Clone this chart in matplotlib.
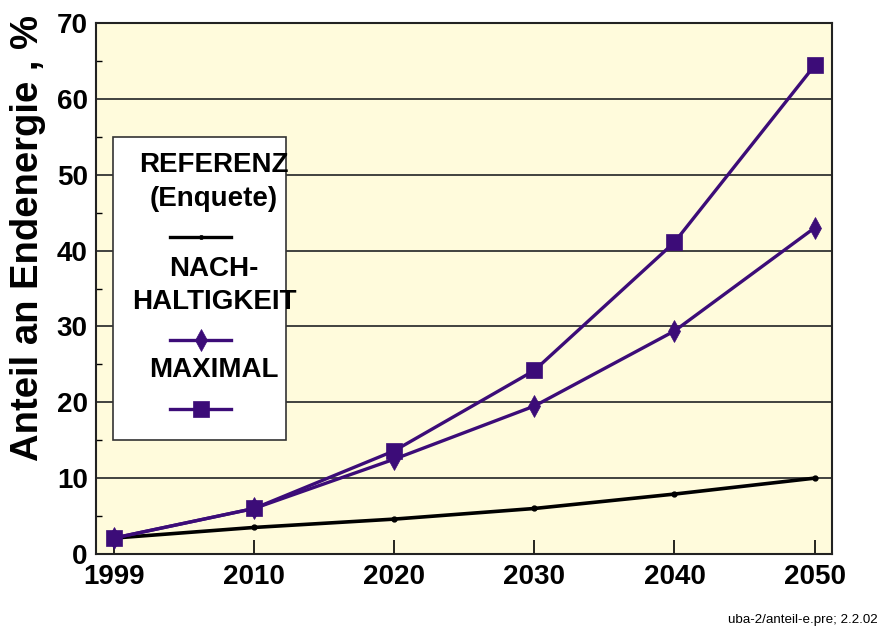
import matplotlib
matplotlib.use("Agg")
import matplotlib.pyplot as plt
from matplotlib.patches import Rectangle
from matplotlib.lines import Line2D
from matplotlib.ticker import MultipleLocator

years = ["1999", "2010", "2020", "2030", "2040", "2050"]
referenz = [2.1, 3.5, 4.6, 6.0, 7.9, 10.0]
nachhaltigkeit = [2.1, 6.0, 12.5, 19.5, 29.4, 43.0]
maximal = [2.1, 6.0, 13.6, 24.2, 41.1, 64.4]
y_ticks = [0, 10, 20, 30, 40, 50, 60, 70]

PURPLE = "#3C0C78"
BG = "#FFFBDC"

plt.rcParams['font.family'] = ['Liberation Sans', 'DejaVu Sans']
plt.rcParams['font.weight'] = 'bold'

fig = plt.figure(figsize=(8.8, 6.31), dpi=100)
ax = fig.add_axes([96/880, 1-554/631, (832-96)/880, (554-23)/631])
ax.set_facecolor(BG)

x = list(range(len(years)))
ax.plot(x, referenz, color="black", lw=2.6, marker="o", ms=3.5, zorder=3)
ax.plot(x, nachhaltigkeit, color=PURPLE, lw=2.4, marker="d", ms=11, mew=0.5, zorder=3)
ax.plot(x, maximal, color=PURPLE, lw=2.4, marker="s", ms=11, mew=0.5, zorder=4)

ax.set_xlim(-0.128, 5.124)
ax.set_ylim(0, 70)
ax.set_xticks(x)
ax.set_xticklabels(years)
ax.set_yticks(y_ticks)
ax.yaxis.set_minor_locator(MultipleLocator(5))
ax.grid(axis='y', which='major', color='#333333', lw=1.3, zorder=1)
ax.set_axisbelow(True)
ax.tick_params(axis='x', direction='in', length=10, width=1.2, pad=7, labelsize=20)
ax.tick_params(axis='y', which='major', direction='in', length=0, pad=6, labelsize=20)
ax.tick_params(axis='y', which='minor', direction='in', length=4, width=1)
for lab in ax.get_xticklabels() + ax.get_yticklabels():
    lab.set_fontweight('bold')
for s in ax.spines.values():
    s.set_linewidth(1.5)
    s.set_color('#222222')

fig.text(28/880, 1-238/631, "Anteil an Endenergie , %", rotation=90,
         ha='center', va='center', fontsize=27.5, fontweight='bold')

# Legend box (manual)
lx0 = (113-96)/736; lx1 = (286-96)/736
ly0 = (554-440)/531; ly1 = (554-137)/531
ax.add_patch(Rectangle((lx0, ly0), lx1-lx0, ly1-ly0, transform=ax.transAxes,
                       facecolor='white', edgecolor='#333333', lw=1.2, zorder=5))
cx = (214-96)/736
def ty(py):
    return (554-py)/531
for txt, py in [("REFERENZ", 165), ("(Enquete)", 199), ("NACH-", 269),
                ("HALTIGKEIT", 302), ("MAXIMAL", 370)]:
    ax.text(cx, ty(py), txt, transform=ax.transAxes, ha='center', va='center',
            fontsize=20, fontweight='bold', zorder=6)
xa = (170-96)/736; xb = (231-96)/736
for py, col, mk, ms in [(237, 'black', 'o', 3), (340, PURPLE, 'd', 11), (409, PURPLE, 's', 11)]:
    ax.add_line(Line2D([xa, (xa+xb)/2, xb], [ty(py)]*3, transform=ax.transAxes,
                       color=col, lw=2.4, marker=mk, ms=ms, mew=0.5, markevery=[1], zorder=6))

fig.text(878/880, 1-620/631, "uba-2/anteil-e.pre; 2.2.02", ha='right', va='center',
         fontsize=9.6, fontweight='normal')

fig.savefig("out.png", dpi=100)
